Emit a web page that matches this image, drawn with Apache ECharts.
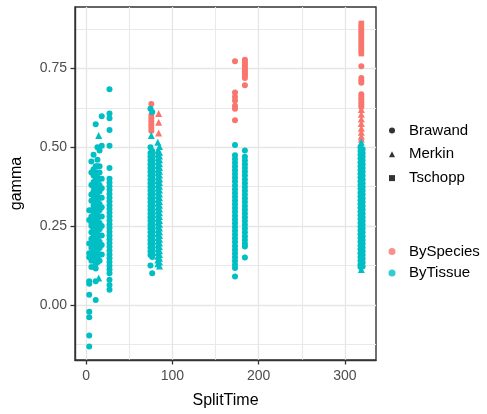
<!DOCTYPE html>
<html>
<head>
<meta charset="utf-8">
<script src="https://cdn.jsdelivr.net/npm/echarts@6/dist/echarts.min.js"></script>
<style>
html,body{margin:0;padding:0;background:#fff;}
#chart{width:487px;height:414px;}
</style>
</head>
<body>
<div id="chart"></div>
<script>
// ---- data: [splitTime, [gamma values ...]] per column ----
const brawandTissue = [
  [3.5, [-0.132, -0.097, -0.039, -0.022, 0.032, 0.067, 0.075, 0.151, 0.164, 0.195, 0.269, 0.30]],
  [6, [0.12, 0.14, 0.16, 0.18, 0.21, 0.23, 0.25, 0.26, 0.28, 0.30, 0.33, 0.35, 0.38, 0.42, 0.455]],
  [8.5, [0.15, 0.17, 0.19, 0.205, 0.22, 0.24, 0.255, 0.27, 0.285, 0.30, 0.315, 0.33, 0.345, 0.36, 0.375, 0.39, 0.41, 0.43, 0.476]],
  [11, [0.015, 0.075, 0.115, 0.13, 0.145, 0.16, 0.175, 0.19, 0.205, 0.22, 0.235, 0.25, 0.265, 0.28, 0.295, 0.31, 0.325, 0.34, 0.355, 0.37, 0.385, 0.40, 0.42, 0.44, 0.573]],
  [13, [0.135, 0.15, 0.165, 0.18, 0.195, 0.21, 0.225, 0.24, 0.255, 0.27, 0.285, 0.30, 0.315, 0.33, 0.345, 0.36, 0.375, 0.39, 0.405, 0.42, 0.44, 0.46, 0.50]],
  [15.5, [0.14, 0.16, 0.18, 0.20, 0.22, 0.24, 0.26, 0.28, 0.30, 0.32, 0.34, 0.36, 0.38, 0.40, 0.42, 0.44, 0.49]],
  [18, [0.16, 0.19, 0.22, 0.25, 0.28, 0.31, 0.34, 0.37, 0.40, 0.505, 0.598]],
  [27, [0.684, 0.607, 0.592, 0.555, 0.505, 0.434, 0.40, 0.388, 0.376, 0.364, 0.352, 0.34, 0.328, 0.316, 0.304, 0.292, 0.28, 0.268, 0.256, 0.244, 0.232, 0.22, 0.208, 0.196, 0.184, 0.172, 0.16, 0.148, 0.136, 0.124, 0.112, 0.10, 0.08, 0.063, 0.048]],
  [74.5, [0.622, 0.50, 0.482, 0.47, 0.458, 0.446, 0.434, 0.422, 0.41, 0.398, 0.386, 0.374, 0.362, 0.35, 0.338, 0.326, 0.314, 0.302, 0.29, 0.278, 0.266, 0.254, 0.242, 0.23, 0.218, 0.206, 0.194, 0.182, 0.17, 0.158, 0.125]],
  [76.5, [0.612, 0.488, 0.476, 0.464, 0.452, 0.44, 0.428, 0.416, 0.404, 0.392, 0.38, 0.368, 0.356, 0.344, 0.332, 0.32, 0.308, 0.296, 0.284, 0.272, 0.26, 0.248, 0.236, 0.224, 0.212, 0.20, 0.188, 0.176, 0.164, 0.152, 0.10]],
  [172.5, [0.507, 0.475, 0.463, 0.451, 0.439, 0.427, 0.415, 0.403, 0.391, 0.379, 0.367, 0.355, 0.343, 0.331, 0.319, 0.307, 0.295, 0.283, 0.271, 0.259, 0.247, 0.235, 0.223, 0.211, 0.199, 0.187, 0.175, 0.163, 0.151, 0.139, 0.127, 0.117, 0.09]],
  [184, [0.49, 0.47, 0.458, 0.446, 0.434, 0.422, 0.41, 0.398, 0.386, 0.374, 0.362, 0.35, 0.338, 0.326, 0.314, 0.302, 0.29, 0.278, 0.266, 0.254, 0.242, 0.23, 0.218, 0.206, 0.194, 0.185, 0.15]],
  [318, [0.50, 0.488, 0.476, 0.464, 0.452, 0.44, 0.428, 0.416, 0.404, 0.392, 0.38, 0.368, 0.356, 0.344, 0.332, 0.32, 0.308, 0.296, 0.284, 0.272, 0.26, 0.248, 0.236, 0.224, 0.212, 0.20, 0.188, 0.176, 0.164, 0.152, 0.14, 0.128, 0.12]],
  [320.5, [0.494, 0.482, 0.47, 0.458, 0.446, 0.434, 0.422, 0.41, 0.398, 0.386, 0.374, 0.362, 0.35, 0.338, 0.326, 0.314, 0.302, 0.29, 0.278, 0.266, 0.254, 0.242, 0.23, 0.218, 0.206, 0.194, 0.182, 0.17, 0.158, 0.146, 0.134, 0.122]]
];
const merkinTissue = [
  [14.5, [0.085, 0.537]],
  [75.5, [0.537, 0.47, 0.41, 0.35, 0.29, 0.23, 0.17]],
  [83, [0.516, 0.49, 0.478, 0.466, 0.454, 0.442, 0.43, 0.418, 0.406, 0.394, 0.382, 0.37, 0.358, 0.346, 0.334, 0.322, 0.31, 0.298, 0.286, 0.274, 0.262, 0.25, 0.238, 0.226, 0.214, 0.202, 0.19, 0.178, 0.166, 0.154, 0.142, 0.13]],
  [85, [0.502, 0.484, 0.472, 0.46, 0.448, 0.436, 0.424, 0.412, 0.40, 0.388, 0.376, 0.364, 0.352, 0.34, 0.328, 0.316, 0.304, 0.292, 0.28, 0.268, 0.256, 0.244, 0.232, 0.22, 0.208, 0.196, 0.184, 0.172, 0.16, 0.148, 0.136, 0.123]],
  [319, [0.516, 0.46, 0.40, 0.34, 0.28, 0.22, 0.16, 0.112]]
];
const tschoppTissue = [
  [319, [0.48, 0.43, 0.37, 0.31, 0.25, 0.19, 0.135]]
];
const brawandSpecies = [
  [75.5, [0.637, 0.602, 0.592, 0.582, 0.572, 0.562, 0.552]],
  [172.5, [0.773, 0.674, 0.66, 0.648, 0.632, 0.622, 0.586]],
  [184, [0.778, 0.77, 0.762, 0.755, 0.748, 0.741, 0.734, 0.727, 0.72, 0.697]],
  [319, [0.757, 0.72, 0.712, 0.705, 0.668, 0.66, 0.652, 0.643, 0.635, 0.628]]
];
const merkinSpecies = [
  [84, [0.607, 0.579, 0.545, 0.484, 0.428, 0.398]],
  [319, [0.62, 0.605, 0.59, 0.575, 0.56, 0.548, 0.535, 0.526, 0.458]]
];
const tschoppSpecies = [
  [319, [0.797, 0.805, 0.813, 0.821, 0.829, 0.837, 0.845, 0.853, 0.861, 0.869, 0.877, 0.885, 0.893]]
];
const xTicks = [0, 100, 200, 300];
const xMinor = [50, 150, 250];
const yTicks = [0, 0.25, 0.5, 0.75];
const yMinor = [-0.125, 0.125, 0.375, 0.625, 0.875];
const shapeNames = ['Brawand', 'Merkin', 'Tschopp'];
const colorNames = ['BySpecies', 'ByTissue'];

// ---- build ----
const COL = {BySpecies: '#F8766D', ByTissue: '#00BFC4'};
const SYM = {Brawand: ['circle', 6], Merkin: ['triangle', 7], Tschopp: ['rect', 5.5]};
const FONT = "'Liberation Sans', Arial, Helvetica, sans-serif";
const toPoints = cols => cols.flatMap(([x, gs]) => gs.map(g => [x, g]));

function dataSeries(shape, group, cols) {
  return {
    type: 'scatter', name: shape + ' ' + group,
    symbol: SYM[shape][0], symbolSize: SYM[shape][1],
    itemStyle: {color: COL[group], opacity: 1},
    data: toPoints(cols), silent: true, animation: false
  };
}
function legendSeries(name, color, symbol) {
  return {type: 'scatter', name: name, symbol: symbol, itemStyle: {color: color}, data: [], animation: false};
}

const series = [
  dataSeries('Brawand', 'BySpecies', brawandSpecies),
  dataSeries('Merkin', 'BySpecies', merkinSpecies),
  dataSeries('Tschopp', 'BySpecies', tschoppSpecies),
  dataSeries('Tschopp', 'ByTissue', tschoppTissue),
  dataSeries('Merkin', 'ByTissue', merkinTissue),
  dataSeries('Brawand', 'ByTissue', brawandTissue),
  legendSeries('Brawand', '#000', 'circle'),
  legendSeries('Merkin', '#000', 'triangle'),
  legendSeries('Tschopp', '#000', 'rect'),
  legendSeries('BySpecies', COL.BySpecies, 'circle'),
  legendSeries('ByTissue', COL.ByTissue, 'circle')
];

const gridLine = {show: true, lineStyle: {color: '#E6E6E6', width: 1.3}};
const minorLine = {show: true, lineStyle: {color: '#E9E9E9', width: 1.1}};
const tickStyle = {lineStyle: {color: '#333333', width: 1.3}};
const labelStyle = {color: '#4D4D4D', fontSize: 14, fontFamily: FONT};
const mainLine = {show: true, onZero: false, lineStyle: {color: '#333333', width: 1.4}};
const noLine = {show: false, onZero: false};

const option = {
  backgroundColor: '#fff',
  animation: false,
  grid: {left: 75, right: 111, top: 7, bottom: 52, show: true, borderColor: '#333333', borderWidth: 1.4, backgroundColor: 'transparent'},
  xAxis: [
    {type: 'value', min: -13, max: 336, position: 'bottom',
     axisLine: mainLine,
     axisTick: Object.assign({show: true, inside: false, length: 4.5, customValues: xTicks}, tickStyle),
     axisLabel: Object.assign({customValues: xTicks, margin: 9}, labelStyle),
     splitLine: gridLine,
     name: 'SplitTime', nameLocation: 'middle', nameGap: 33,
     nameTextStyle: {fontSize: 16, color: '#000', fontFamily: FONT}},
    {type: 'value', min: -13, max: 336, position: 'bottom',
     axisLine: noLine, axisTick: {show: false, customValues: xMinor},
     axisLabel: {show: false}, splitLine: minorLine}
  ],
  yAxis: [
    {type: 'value', min: -0.175, max: 0.945, position: 'left',
     axisLine: mainLine,
     axisTick: Object.assign({show: true, inside: false, length: 4.5, customValues: yTicks}, tickStyle),
     axisLabel: Object.assign({customValues: yTicks, margin: 8, formatter: v => v.toFixed(2)}, labelStyle),
     splitLine: gridLine,
     name: 'gamma', nameLocation: 'middle', nameGap: 50, nameRotate: 90,
     nameTextStyle: {fontSize: 16, color: '#000', fontFamily: FONT}},
    {type: 'value', min: -0.175, max: 0.945, position: 'left',
     axisLine: noLine, axisTick: {show: false, customValues: yMinor},
     axisLabel: {show: false}, splitLine: minorLine}
  ],
  legend: [
    {orient: 'vertical', left: 389, top: 123, padding: 0, itemWidth: 6, itemHeight: 6, itemGap: 8.8,
     selectedMode: false,
     data: shapeNames.map(n => ({name: n, icon: SYM[n][0]})),
     textStyle: {fontSize: 15, lineHeight: 15, color: '#000', fontFamily: FONT, padding: [0, 0, 0, 9]}},
    {orient: 'vertical', left: 388.5, top: 244, padding: 0, itemWidth: 7, itemHeight: 7, itemGap: 6.5,
     selectedMode: false,
     data: colorNames.map(n => ({name: n, icon: 'circle'})),
     textStyle: {fontSize: 15, lineHeight: 15, color: '#000', fontFamily: FONT, padding: [0, 0, 0, 8.5]}}
  ],
  series: series
};

const chart = echarts.init(document.getElementById('chart'), null, {renderer: 'canvas'});
chart.setOption(option);
</script>
</body>
</html>
